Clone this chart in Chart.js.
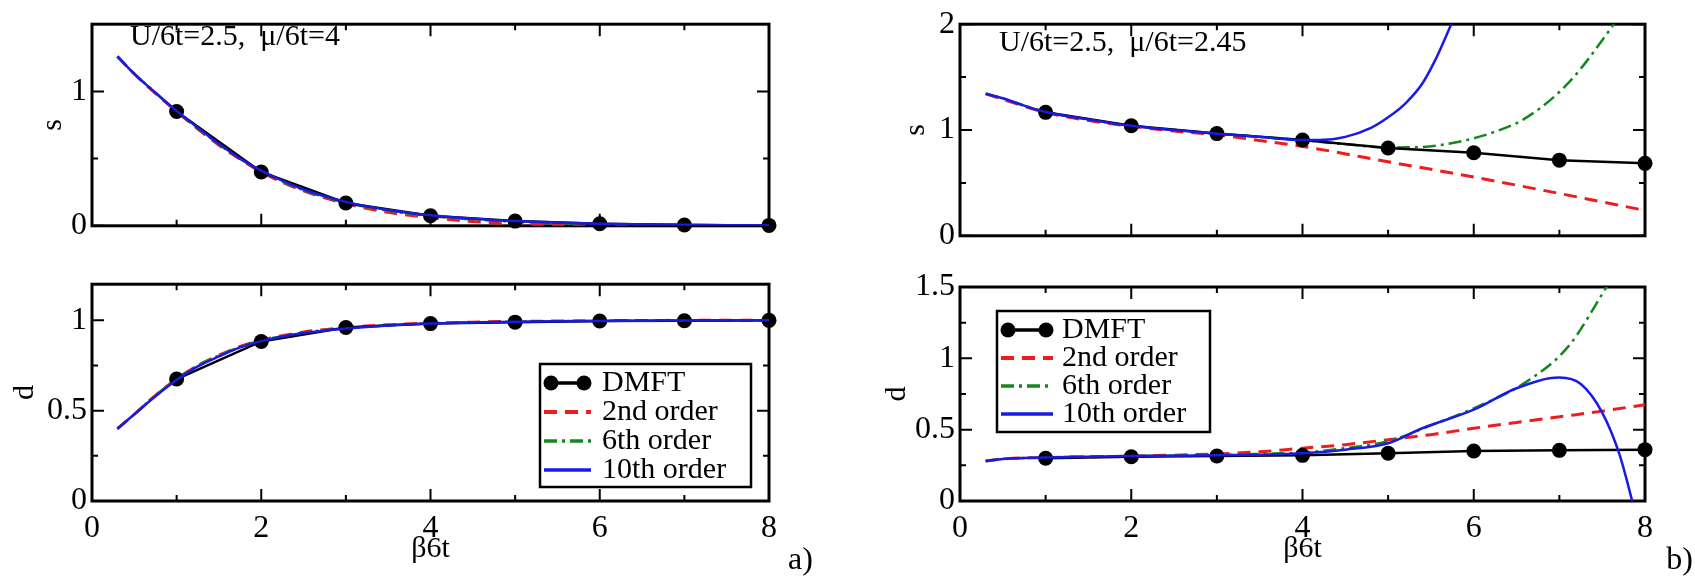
<!DOCTYPE html>
<html lang="en">
<head>
<meta charset="UTF-8">
<title>s and d vs β6t</title>
<style>
    * { margin: 0; padding: 0; box-sizing: border-box; }
    body { background: #fff; width: 1695px; height: 576px; overflow: hidden; position: relative; }
    canvas { position: absolute; }
</style>
</head>
<body>

<canvas id="aTop" width="850" height="250" style="left:0;top:0"></canvas>
<canvas id="aBot" width="850" height="316" style="left:0;top:260px"></canvas>
<canvas id="bTop" width="845" height="260" style="left:850px;top:0"></canvas>
<canvas id="bBot" width="845" height="316" style="left:850px;top:260px"></canvas>

<script src="https://cdn.jsdelivr.net/npm/chart.js"></script>
<script>
    // axis ticks
    const xMajor = [0, 2, 4, 6, 8];
    const xMinor = [1, 3, 5, 7];
    const seriesNames = ['DMFT', '2nd order', '6th order', '10th order'];

    // DMFT points (same beta grid everywhere)
    const dmftX = [1, 2, 3, 4, 5, 6, 7, 8];

    // panel a)  U/6t=2.5, mu/6t=4
    const aCurveX  = [0.3, 0.5, 0.75, 1, 1.25, 1.5, 1.75, 2, 2.5, 3, 3.5, 4, 4.5, 5, 5.5, 6, 6.5, 7, 7.5, 8];
    const aTopDmft = [0.85, 0.40, 0.17, 0.075, 0.035, 0.015, 0.006, 0.003];
    const aTop2nd  = [1.26, 1.13, 0.985, 0.85, 0.72, 0.6, 0.495, 0.4, 0.26, 0.165, 0.1, 0.06, 0.032, 0.015, 0.006, 0.002, 0, 0, 0, 0];
    const aTop6th  = [1.26, 1.13, 0.99, 0.85, 0.725, 0.605, 0.5, 0.405, 0.265, 0.172, 0.112, 0.072, 0.047, 0.03, 0.02, 0.013, 0.008, 0.005, 0.003, 0.002];
    const aTop10th = [1.26, 1.13, 0.99, 0.855, 0.73, 0.61, 0.5, 0.41, 0.27, 0.178, 0.118, 0.078, 0.052, 0.035, 0.024, 0.016, 0.011, 0.007, 0.005, 0.003];
    const aBotDmft = [0.675, 0.883, 0.96, 0.982, 0.99, 0.996, 0.998, 1.0];
    const aBot2nd  = [0.40, 0.48, 0.585, 0.675, 0.75, 0.807, 0.855, 0.89, 0.935, 0.96, 0.975, 0.985, 0.99, 0.994, 0.996, 0.998, 0.999, 1.0, 1.0, 1.0];
    const aBot6th  = [0.40, 0.48, 0.585, 0.675, 0.75, 0.805, 0.853, 0.888, 0.932, 0.957, 0.973, 0.983, 0.989, 0.993, 0.995, 0.997, 0.998, 0.999, 1.0, 1.0];
    const aBot10th = [0.40, 0.48, 0.58, 0.67, 0.745, 0.80, 0.85, 0.885, 0.93, 0.955, 0.972, 0.982, 0.988, 0.992, 0.995, 0.997, 0.998, 0.999, 1.0, 1.0];

    // panel b)  U/6t=2.5, mu/6t=2.45
    const bTopDmft  = [1.167, 1.04, 0.966, 0.905, 0.83, 0.785, 0.715, 0.685];
    const bTop2ndX  = [0.3, 0.5, 1, 1.5, 2, 2.5, 3, 3.5, 4, 5, 6, 7, 8];
    const bTop2nd   = [1.343, 1.29, 1.165, 1.09, 1.035, 0.99, 0.955, 0.9, 0.845, 0.7, 0.555, 0.4, 0.24];
    const bTop6thX  = [0.3, 0.5, 0.75, 1, 1.5, 2, 2.5, 3, 3.5, 4, 4.5, 5, 5.4, 5.8, 6.2, 6.6, 7.1, 7.6, 7.8];
    const bTop6th   = [1.343, 1.3, 1.23, 1.17, 1.1, 1.04, 1.0, 0.965, 0.935, 0.905, 0.865, 0.835, 0.84, 0.885, 0.97, 1.11, 1.44, 1.96, 2.2];
    const bTop10thX = [0.3, 0.5, 0.75, 1, 1.5, 2, 2.5, 3, 3.5, 4, 4.2, 4.5, 4.8, 5.0, 5.2, 5.4, 5.55, 5.7, 5.8];
    const bTop10th  = [1.343, 1.3, 1.23, 1.17, 1.1, 1.04, 1.0, 0.965, 0.935, 0.905, 0.905, 0.935, 1.02, 1.12, 1.25, 1.44, 1.66, 1.93, 2.12];
    const bBotDmft  = [0.30, 0.31, 0.315, 0.32, 0.335, 0.35, 0.355, 0.36];
    const bBot2ndX  = [0.3, 0.5, 1, 2, 3, 3.5, 4, 4.5, 5, 5.5, 6, 6.5, 7, 7.5, 8];
    const bBot2nd   = [0.28, 0.295, 0.305, 0.315, 0.33, 0.345, 0.37, 0.395, 0.43, 0.465, 0.51, 0.55, 0.59, 0.63, 0.675];
    const bBot6thX  = [0.3, 0.5, 1, 2, 3, 3.5, 4, 4.5, 5, 5.5, 6, 6.6, 7.1, 7.55, 7.7];
    const bBot6th   = [0.28, 0.295, 0.305, 0.315, 0.322, 0.33, 0.34, 0.37, 0.42, 0.53, 0.65, 0.83, 1.08, 1.5, 1.65];
    const bBot10thX = [0.3, 0.5, 1, 2, 3, 3.5, 4, 4.5, 5, 5.4, 6, 6.5, 7, 7.25, 7.5, 7.7, 7.85, 7.95];
    const bBot10th  = [0.28, 0.295, 0.305, 0.315, 0.32, 0.325, 0.335, 0.36, 0.405, 0.51, 0.64, 0.79, 0.865, 0.82, 0.62, 0.33, 0.0, -0.25];

    const styles = {
        'DMFT':       { borderColor: '#000', borderWidth: 2.5, pointRadius: 7.5, pointBackgroundColor: '#000', pointBorderWidth: 0, tension: 0, cubicInterpolationMode: 'default', clip: false, order: 1 },
        '2nd order':  { borderColor: '#ee1c1c', borderWidth: 3, borderDash: [13, 8], order: 3 },
        '6th order':  { borderColor: '#14881e', borderWidth: 2.5, borderDash: [13, 5, 3, 5], order: 2 },
        '10th order': { borderColor: '#1a1ae6', borderWidth: 2.5, order: 0 }
    };

    const serif = '"Liberation Serif", "Times New Roman", serif';
    Chart.defaults.font.family = serif;
    Chart.defaults.color = '#000';

    // frame with inward ticks on all four sides, legend box and free text
    const framePlugin = {
        id: 'frame',
        beforeDatasetsDraw(chart, args, o) {
            const { ctx, chartArea: a, scales } = chart;
            ctx.save();
            ctx.strokeStyle = '#000';
            ctx.lineWidth = 3;
            ctx.strokeRect(a.left, a.top, a.right - a.left, a.bottom - a.top);
            ctx.lineWidth = 2;
            ctx.beginPath();
            const xt = (vals, len) => vals.forEach(v => {
                const p = scales.x.getPixelForValue(v);
                ctx.moveTo(p, a.bottom); ctx.lineTo(p, a.bottom - len);
                ctx.moveTo(p, a.top); ctx.lineTo(p, a.top + len);
            });
            const yt = (vals, len) => vals.forEach(v => {
                const p = scales.y.getPixelForValue(v);
                ctx.moveTo(a.left, p); ctx.lineTo(a.left + len, p);
                ctx.moveTo(a.right, p); ctx.lineTo(a.right - len, p);
            });
            xt(xMajor, 12); xt(xMinor, 6);
            yt(o.yMajor, 12); yt(o.yMinor, 6);
            ctx.stroke();
            ctx.restore();
        },
        afterDraw(chart, args, o) {
            const ctx = chart.ctx;
            ctx.save();
            ctx.fillStyle = '#000';
            ctx.textBaseline = 'middle';
            const L = o.legend;
            if (L) {
                ctx.strokeStyle = '#000';
                ctx.lineWidth = 2.5;
                ctx.strokeRect(L.x, L.y, L.w, L.h);
                ctx.font = '30px ' + serif;
                ctx.textAlign = 'left';
                seriesNames.forEach((name, i) => {
                    const ds = chart.data.datasets[i];
                    const yy = L.y + L.row0 + i * L.rowH;
                    ctx.save();
                    ctx.strokeStyle = ds.borderColor;
                    ctx.lineWidth = ds.borderWidth + 1;
                    ctx.setLineDash(ds.borderDash || []);
                    ctx.beginPath();
                    ctx.moveTo(L.x + L.s0, yy);
                    ctx.lineTo(L.x + L.s1, yy);
                    ctx.stroke();
                    ctx.restore();
                    if (ds.pointRadius) {
                        [L.x + L.s0 + 7, L.x + L.s1 - 7].forEach(cx => {
                            ctx.beginPath();
                            ctx.arc(cx, yy, ds.pointRadius, 0, Math.PI * 2);
                            ctx.fill();
                        });
                    }
                    ctx.fillText(name, L.x + L.tx, yy);
                });
            }
            (o.texts || []).forEach(t => {
                ctx.font = t.size + 'px ' + serif;
                ctx.textAlign = t.align;
                ctx.fillText(t.text, t.x, t.y);
            });
            ctx.restore();
        }
    };

    function makeChart(id, c) {
        const datasets = seriesNames.map(name => Object.assign({
            label: name,
            data: c.series[name][0].map((x, i) => ({ x: x, y: c.series[name][1][i] })),
            pointRadius: 0,
            fill: false,
            cubicInterpolationMode: 'monotone'
        }, styles[name]));

        return new Chart(document.getElementById(id), {
            type: 'line',
            data: { datasets: datasets },
            options: {
                responsive: false,
                animation: false,
                devicePixelRatio: 1,
                layout: { autoPadding: false, padding: { left: 0, top: c.padTop, right: c.padRight, bottom: 0 } },
                plugins: {
                    legend: { display: false },
                    tooltip: { enabled: false },
                    frame: { yMajor: c.yLabels, yMinor: c.yMinor, legend: c.legend, texts: c.texts }
                },
                scales: {
                    x: {
                        type: 'linear', min: 0, max: 8,
                        grid: { display: false, drawTicks: false },
                        border: { display: false },
                        afterBuildTicks: s => { s.ticks = xMajor.map(v => ({ value: v })); },
                        afterFit: s => { s.height = c.xH; },
                        ticks: { display: c.showX, padding: 8, font: { size: 32 }, callback: v => String(v) },
                        title: { display: c.showX, text: 'β6t', font: { size: 30 }, padding: { top: 0, bottom: 9 } }
                    },
                    y: {
                        type: 'linear', min: c.yMin, max: c.yMax,
                        grid: { display: false, drawTicks: false },
                        border: { display: false },
                        afterBuildTicks: s => { s.ticks = c.yLabels.map(v => ({ value: v })); },
                        afterFit: s => { s.width = c.yW; },
                        ticks: { padding: 5, font: { size: 32 }, callback: v => String(v) },
                        title: { display: true, text: c.yTitle, font: { size: 30 }, padding: { top: c.yTitlePad, bottom: 0 } }
                    }
                }
            },
            plugins: [framePlugin]
        });
    }

    makeChart('aTop', {
        series: { 'DMFT': [dmftX, aTopDmft], '2nd order': [aCurveX, aTop2nd], '6th order': [aCurveX, aTop6th], '10th order': [aCurveX, aTop10th] },
        yMin: 0, yMax: 1.5, yLabels: [0, 1], yMinor: [0.5], yTitle: 's', yTitlePad: 35,
        padTop: 10, padRight: 81, yW: 92, xH: 13, showX: false,
        texts: [{ text: 'U/6t=2.5,  μ/6t=4', x: 130, y: 37, size: 30, align: 'left' }]
    });

    makeChart('aBot', {
        series: { 'DMFT': [dmftX, aBotDmft], '2nd order': [aCurveX, aBot2nd], '6th order': [aCurveX, aBot6th], '10th order': [aCurveX, aBot10th] },
        yMin: 0, yMax: 1.2, yLabels: [0, 0.5, 1], yMinor: [0.25, 0.75], yTitle: 'd', yTitlePad: 7,
        padTop: 21, padRight: 81, yW: 92, xH: 75, showX: true,
        legend: { x: 540, y: 104, w: 211, h: 123, row0: 19, rowH: 29, s0: 4, s1: 51, tx: 62 },
        texts: [{ text: 'a)', x: 788, y: 301, size: 32, align: 'left' }]
    });

    makeChart('bTop', {
        series: { 'DMFT': [dmftX, bTopDmft], '2nd order': [bTop2ndX, bTop2nd], '6th order': [bTop6thX, bTop6th], '10th order': [bTop10thX, bTop10th] },
        yMin: 0, yMax: 2, yLabels: [0, 1, 2], yMinor: [0.5, 1.5], yTitle: 's', yTitlePad: 48,
        padTop: 21, padRight: 50, yW: 110, xH: 18, showX: false,
        texts: [{ text: 'U/6t=2.5,  μ/6t=2.45', x: 149, y: 43, size: 30, align: 'left' }]
    });

    makeChart('bBot', {
        series: { 'DMFT': [dmftX, bBotDmft], '2nd order': [bBot2ndX, bBot2nd], '6th order': [bBot6thX, bBot6th], '10th order': [bBot10thX, bBot10th] },
        yMin: 0, yMax: 1.5, yLabels: [0, 0.5, 1, 1.5], yMinor: [0.25, 0.75, 1.25], yTitle: 'd', yTitlePad: 29,
        padTop: 27, padRight: 50, yW: 110, xH: 75, showX: true,
        legend: { x: 147, y: 51, w: 213, h: 121, row0: 19, rowH: 28, s0: 4, s1: 56, tx: 65 },
        texts: [{ text: 'b)', x: 843, y: 301, size: 32, align: 'right' }]
    });
</script>

</body>
</html>
